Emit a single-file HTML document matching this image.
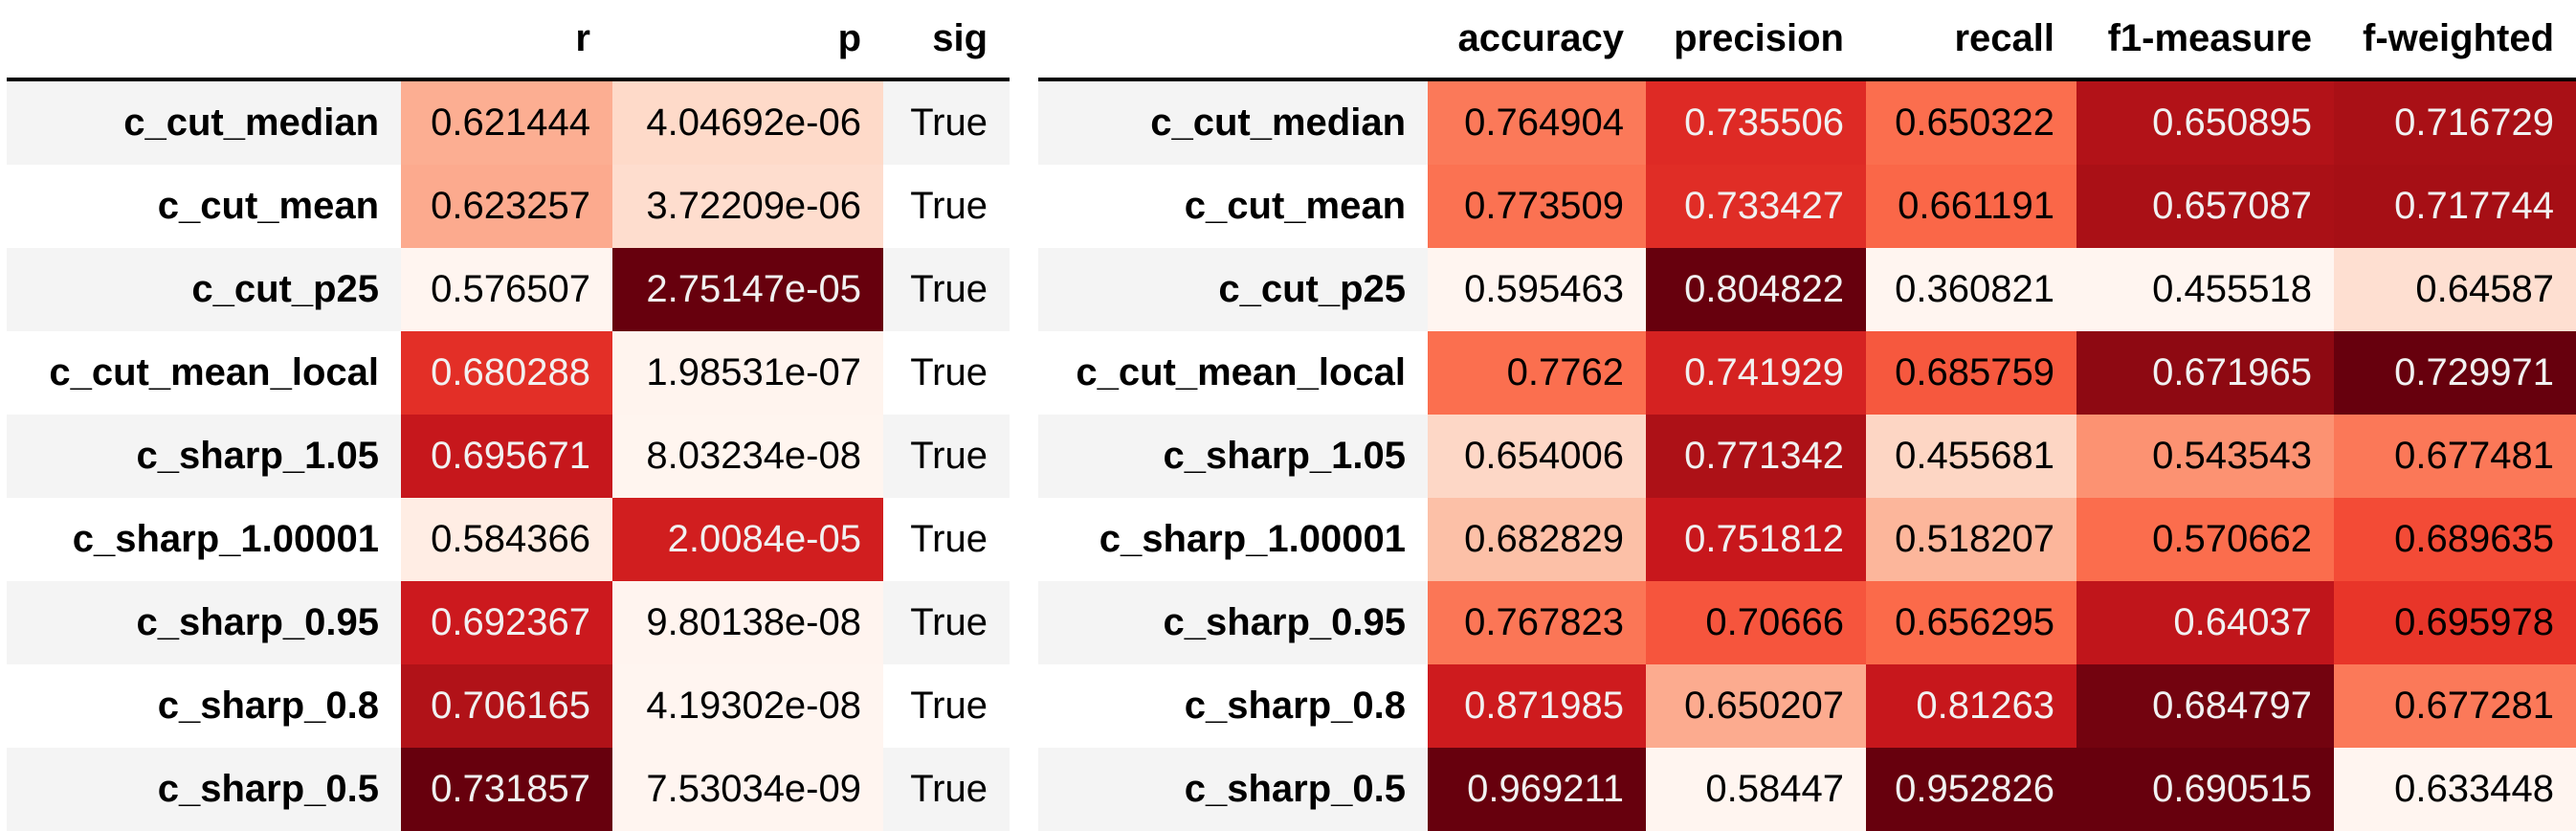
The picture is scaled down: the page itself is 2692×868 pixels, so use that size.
<!DOCTYPE html>
<html><head><meta charset="utf-8">
<style>
html,body{margin:0;padding:0;background:#fff;width:2692px;height:868px;overflow:hidden}
body{position:relative;font-family:"Liberation Sans",Arial,sans-serif;font-size:40px}
.c{position:absolute;box-sizing:border-box;text-align:right;padding-right:23px;white-space:nowrap;color:#000}
.h{font-weight:bold}
.line{position:absolute;height:4px;background:#000}
</style></head>
<body>
<div id="root"></div>
<script>
const rowLabels=["c_cut_median","c_cut_mean","c_cut_p25","c_cut_mean_local","c_sharp_1.05","c_sharp_1.00001","c_sharp_0.95","c_sharp_0.8","c_sharp_0.5"];
const rVals=[0.621444,0.623257,0.576507,0.680288,0.695671,0.584366,0.692367,0.706165,0.731857];
const pVals=[4.04692e-06,3.72209e-06,2.75147e-05,1.98531e-07,8.03234e-08,2.0084e-05,9.80138e-08,4.19302e-08,7.53034e-09];
const pLabels=["4.04692e-06","3.72209e-06","2.75147e-05","1.98531e-07","8.03234e-08","2.0084e-05","9.80138e-08","4.19302e-08","7.53034e-09"];
const sigVals=["True","True","True","True","True","True","True","True","True"];
const accuracy=[0.764904,0.773509,0.595463,0.7762,0.654006,0.682829,0.767823,0.871985,0.969211];
const precision=[0.735506,0.733427,0.804822,0.741929,0.771342,0.751812,0.70666,0.650207,0.58447];
const recall=[0.650322,0.661191,0.360821,0.685759,0.455681,0.518207,0.656295,0.81263,0.952826];
const f1=[0.650895,0.657087,0.455518,0.671965,0.543543,0.570662,0.64037,0.684797,0.690515];
const fw=[0.716729,0.717744,0.64587,0.729971,0.677481,0.689635,0.695978,0.677281,0.633448];

const stops=["#fff5f0","#fee0d2","#fcbba1","#fc9272","#fb6a4a","#ef3b2c","#cb181d","#a50f15","#67000d"];
function hex(h){return [1,3,5].map(i=>parseInt(h.substr(i,2),16));}
function cmap(t){t=Math.max(0,Math.min(1,t));const s=t*8;const i=Math.min(7,Math.floor(s));const f=s-i;const a=hex(stops[i]),b=hex(stops[i+1]);return a.map((v,k)=>v+(b[k]-v)*f);}
function lum(c){const l=c.map(v=>{v/=255;return v<=0.03928?v/12.92:Math.pow((v+0.055)/1.055,2.4);});return 0.2126*l[0]+0.7152*l[1]+0.0722*l[2];}
function fmt(v){return String(+v.toPrecision(6));}

const root=document.getElementById('root');
const top0=85,rh=87;
function cell(x,y,w,h,text,cls,bg,color){
  const d=document.createElement('div');
  d.className='c '+(cls||'');
  d.style.left=x+'px';d.style.top=y+'px';d.style.width=w+'px';d.style.height=h+'px';d.style.lineHeight=h+'px';
  if(bg)d.style.background=bg;
  if(color)d.style.color=color;
  d.textContent=text;
  root.appendChild(d);
  return d;
}
function table(colEdges,headers,cols,name){
  for(let j=0;j<headers.length;j++){
    const el=cell(colEdges[j+1],0,colEdges[j+2]-colEdges[j+1],76,headers[j],'h');
    el.style.lineHeight='80px';
    
    
  }
  const ln=document.createElement('div');ln.className='line';
  ln.style.left=colEdges[0]+'px';ln.style.top=(top0-4)+'px';ln.style.width=(colEdges[colEdges.length-1]-colEdges[0])+'px';
  
  
  root.appendChild(ln);
  for(let i=0;i<rowLabels.length;i++){
    const y=top0+i*rh;const stripe=i%2===0?'#f4f4f4':'#fff';
    const ix=cell(colEdges[0],y,colEdges[1]-colEdges[0],rh,rowLabels[i],'h',stripe);
    
    
    for(let j=0;j<cols.length;j++){
      const col=cols[j];const x=colEdges[j+1],w=colEdges[j+2]-colEdges[j+1];
      let el;
      if(col.num){
        const mn=Math.min(...col.vals),mx=Math.max(...col.vals);
        const c=cmap((col.vals[i]-mn)/(mx-mn));
        const bg='rgb('+c.map(Math.round).join(',')+')';
        const tc=lum(c)<0.19?'#f1f1f1':'#000';
        el=cell(x,y,w,rh,col.labels?col.labels[i]:fmt(col.vals[i]),'',bg,tc);
      } else {
        el=cell(x,y,w,rh,col.vals[i],'',stripe);
      }
      
      
    }
  }
}
table([7,419,640,923,1055],["r","p","sig"],
  [{num:true,vals:rVals},{num:true,vals:pVals,labels:pLabels},{num:false,vals:sigVals}],'corr-table');
table([1085,1492,1720,1950,2170,2439,2692],["accuracy","precision","recall","f1-measure","f-weighted"],
  [{num:true,vals:accuracy},{num:true,vals:precision},{num:true,vals:recall},{num:true,vals:f1},{num:true,vals:fw}],'metrics-table');
</script>
</body></html>
